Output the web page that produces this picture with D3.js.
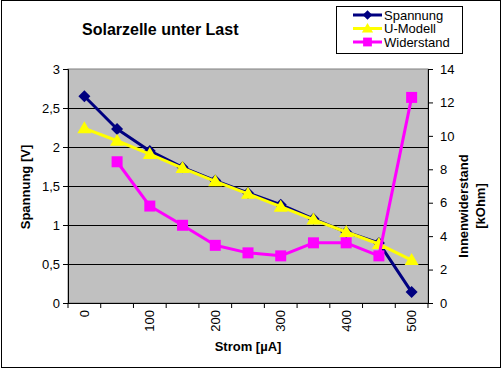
<!DOCTYPE html>
<html><head><meta charset="utf-8">
<script src="https://cdn.jsdelivr.net/npm/d3@7"></script>
<style>
body{margin:0;background:#fff;}
svg{display:block;font-family:"Liberation Sans",Arial,sans-serif;}
</style></head>
<body><svg id="c" width="503" height="369"></svg>
<script>
const strom = ["0","50","100","150","200","250","300","350","400","450","500"];
const xTickLabels = ["0","100","200","300","400","500"];
const spannung = [2.65,2.23,1.95,1.74,1.57,1.41,1.26,1.08,0.91,0.77,0.14];
const uModell  = [2.24,2.08,1.91,1.73,1.56,1.40,1.235,1.07,0.91,0.756,0.55];
const widerstand = [null,8.45,5.8,4.65,3.45,3.0,2.82,3.6,3.6,2.82,12.3];
const leftTicks = [0,0.5,1,1.5,2,2.5,3];
const rightTicks = [0,2,4,6,8,10,12,14];

const svg = d3.select("#c");
const L=68,R=428,T=69,B=303;
const x = d3.scaleBand().domain(strom).range([L,R]).padding(0);
const yL = d3.scaleLinear().domain([0,3]).range([B,T]);
const yR = d3.scaleLinear().domain([0,14]).range([B,T]);
const cx = d=>x(d)+x.bandwidth()/2;

// outer border
svg.append("rect").attr("x",1.5).attr("y",0.5).attr("width",499).attr("height",367)
  .attr("fill","#fff").attr("stroke","#000").attr("stroke-width",1);

// plot area
svg.append("rect").attr("x",L).attr("y",T).attr("width",R-L).attr("height",B-T)
  .attr("fill","#C0C0C0").attr("stroke","#808080").attr("stroke-width",1);

// gridlines
svg.append("g").selectAll("line").data(leftTicks.filter(v=>v>0&&v<3)).join("line")
  .attr("x1",L).attr("x2",R).attr("y1",d=>Math.round(yL(d))+0.5).attr("y2",d=>Math.round(yL(d))+0.5)
  .attr("stroke","#000").attr("stroke-width",1);

const fmt = d=>String(d).replace(".",",");
const ga = svg.append("g").attr("transform",`translate(${L},0)`)
  .call(d3.axisLeft(yL).tickValues(leftTicks).tickFormat(fmt).tickSize(5).tickPadding(3));
const gr = svg.append("g").attr("transform",`translate(${R},0)`)
  .call(d3.axisRight(yR).tickValues(rightTicks).tickSize(5).tickPadding(7));
const gx = svg.append("g").attr("transform",`translate(0,${B})`)
  .call(d3.axisBottom(x).tickValues(xTickLabels).tickSize(0).tickPadding(0));
// boundary ticks on x axis
const edges = strom.map(d=>x(d)).concat([x(strom[strom.length-1])+x.bandwidth()]);
gx.selectAll(".edge").data(edges).join("line").attr("class","edge")
  .attr("x1",d=>d).attr("x2",d=>d).attr("y1",0).attr("y2",5).attr("stroke","#000");
gx.selectAll(".tick text").attr("transform","rotate(-90)").attr("text-anchor","end")
  .attr("x",-7).attr("y",0).attr("dy","0.35em");

[ga,gr,gx].forEach(g=>{
  g.selectAll("path.domain").attr("stroke","#000");
  g.selectAll(".tick line").attr("stroke","#000");
  g.selectAll("text").attr("font-size",13).attr("fill","#000")
    .attr("font-family","'Liberation Sans',Arial,sans-serif");
});
gx.select("path.domain").remove();
svg.append("line").attr("x1",L).attr("x2",R).attr("y1",B+0.5).attr("y2",B+0.5).attr("stroke","#000");

// series
function series(vals, scale, color, marker){
  const line = d3.line().defined(d=>d[1]!=null).x(d=>cx(d[0])).y(d=>scale(d[1]));
  const data = strom.map((s,i)=>[s,vals[i]]);
  svg.append("path").datum(data).attr("d",line).attr("fill","none")
    .attr("stroke",color).attr("stroke-width",3).attr("stroke-linejoin","round");
  const pts = data.filter(d=>d[1]!=null);
  svg.append("g").selectAll("path").data(pts).join("path")
    .attr("transform",d=>`translate(${cx(d[0])},${scale(d[1])})`)
    .attr("d",marker).attr("fill",color);
}
const diamond = "M0,-6L6,0L0,6L-6,0Z";
const tri = "M0,-7L7,5L-7,5Z";
const sq = "M-5.5,-5.5H5.5V5.5H-5.5Z";
series(spannung,yL,"#000080",diamond);
series(uModell,yL,"#FFFF00",tri);
series(widerstand,yR,"#FF00FF",sq);

// titles
svg.append("text").attr("x",82).attr("y",35).attr("font-size",16).attr("font-weight","bold").text("Solarzelle unter Last");
svg.append("text").attr("transform","translate(25,187) rotate(-90)").attr("text-anchor","middle")
  .attr("dy","0.35em").attr("font-size",13).attr("font-weight","bold").text("Spannung [V]");
svg.append("text").attr("transform","translate(463,206) rotate(-90)").attr("text-anchor","middle")
  .attr("dy","0.35em").attr("font-size",13).attr("font-weight","bold").text("Innenwiderstand");
svg.append("text").attr("transform","translate(480,206) rotate(-90)").attr("text-anchor","middle")
  .attr("dy","0.35em").attr("font-size",13).attr("font-weight","bold").text("[kOhm]");
svg.append("text").attr("x",(L+R)/2).attr("y",351).attr("text-anchor","middle")
  .attr("font-size",13).attr("font-weight","bold").text("Strom [µA]");

// legend
const legNames = ["Spannung","U-Modell","Widerstand"];
const legColors = ["#000080","#FFFF00","#FF00FF"];
const legMarkers = [diamond,tri,sq];
svg.append("rect").attr("x",336.5).attr("y",6.5).attr("width",126).attr("height",47)
  .attr("fill","#fff").attr("stroke","#000");
legNames.forEach((n,i)=>{
  const yy = 15+i*13.5;
  svg.append("line").attr("x1",353).attr("x2",382).attr("y1",yy).attr("y2",yy)
    .attr("stroke",legColors[i]).attr("stroke-width",3);
  svg.append("path").attr("transform",`translate(367.5,${yy}) scale(0.8)`).attr("d",legMarkers[i]).attr("fill",legColors[i]);
  svg.append("text").attr("x",384).attr("y",yy).attr("dy","0.35em").attr("font-size",13).text(n);
});
</script></body></html>
